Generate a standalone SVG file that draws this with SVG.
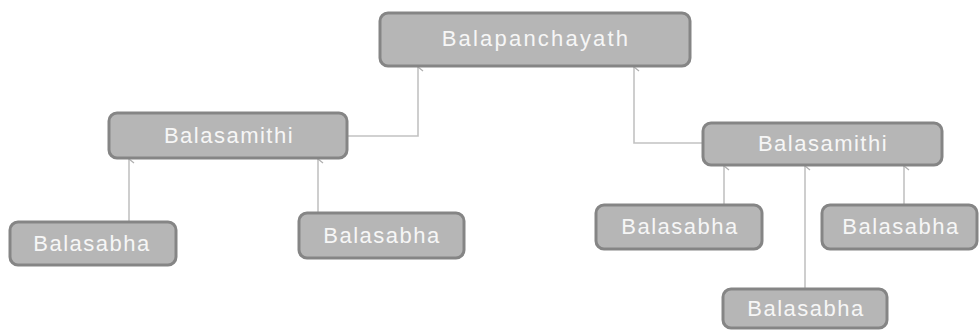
<svg xmlns="http://www.w3.org/2000/svg" width="979" height="330" viewBox="0 0 979 330">
<defs>
<style>
.box{fill:#b6b6b6;stroke:#858585;stroke-width:3}
.lbl{font-family:"Liberation Sans",Arial,sans-serif;font-size:22px;fill:#f6f6f6;text-anchor:middle;letter-spacing:1.5px}
.con{fill:none;stroke:#c2c2c2;stroke-width:1.6}
</style>
<marker id="ah" markerWidth="10" markerHeight="10" refX="5" refY="1" orient="auto-start-reverse" markerUnits="userSpaceOnUse" viewBox="0 0 10 10">
<path d="M1,6 L5,1 L9,6" fill="none" stroke="#b0b0b0" stroke-width="1.3"/>
</marker>
</defs>
<rect width="979" height="330" fill="#ffffff"/>
<g id="connectors">
<path class="con" d="M347,136 H418 V67" marker-end="url(#ah)"/>
<path class="con" d="M703,143 H634 V67" marker-end="url(#ah)"/>
<path class="con" d="M129,222 V159" marker-end="url(#ah)"/>
<path class="con" d="M318,213 V159" marker-end="url(#ah)"/>
<path class="con" d="M724,205 V166" marker-end="url(#ah)"/>
<path class="con" d="M805,289 V166" marker-end="url(#ah)"/>
<path class="con" d="M904,205 V166" marker-end="url(#ah)"/>
</g>
<g id="balapanchayath">
<rect class="box" x="380" y="13" width="310" height="53" rx="8"/>
<text class="lbl" x="536" y="46" style="letter-spacing:2.2px">Balapanchayath</text>
</g>
<g id="balasamithi-left">
<rect class="box" x="109" y="113" width="238" height="45" rx="8"/>
<text class="lbl" x="229" y="143">Balasamithi</text>
</g>
<g id="balasamithi-right">
<rect class="box" x="703" y="123" width="239" height="42" rx="8"/>
<text class="lbl" x="823" y="151">Balasamithi</text>
</g>
<g id="balasabha-1">
<rect class="box" x="10" y="222" width="166" height="43" rx="8"/>
<text class="lbl" x="92" y="251">Balasabha</text>
</g>
<g id="balasabha-2">
<rect class="box" x="299" y="213" width="165" height="45" rx="8"/>
<text class="lbl" x="382" y="243">Balasabha</text>
</g>
<g id="balasabha-3">
<rect class="box" x="596" y="205" width="166" height="44" rx="8"/>
<text class="lbl" x="680" y="234">Balasabha</text>
</g>
<g id="balasabha-4">
<rect class="box" x="822" y="205" width="155" height="44" rx="8"/>
<text class="lbl" x="901" y="234">Balasabha</text>
</g>
<g id="balasabha-5">
<rect class="box" x="723" y="289" width="164" height="39" rx="8"/>
<text class="lbl" x="806" y="316">Balasabha</text>
</g>
</svg>
